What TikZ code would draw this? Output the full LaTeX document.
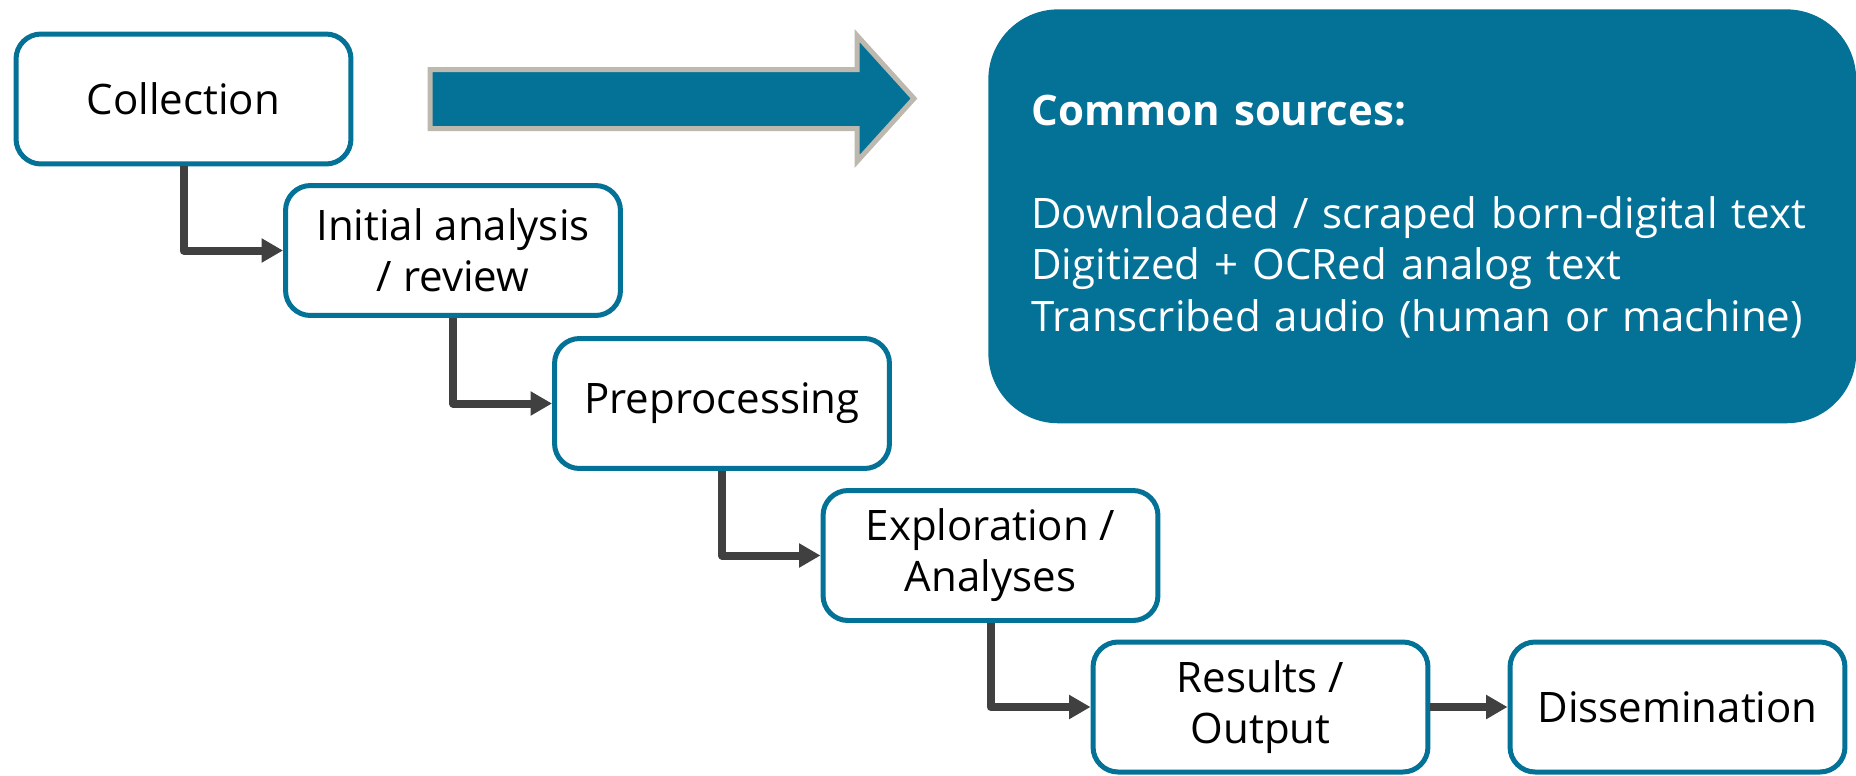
\documentclass[tikz,border=0pt]{standalone}
\usepackage{fontspec}
\setmainfont{Open Sans}
\usepackage{tikz}
\usetikzlibrary{arrows.meta}
\definecolor{stageblue}{HTML}{047196}
\definecolor{arrowgray}{HTML}{BEB9AF}
\definecolor{linkgray}{HTML}{404040}
\tikzset{
  stage/.style={draw=stageblue,line width=0.1cm,fill=white,rounded corners=0.5cm,
    minimum width=6.7cm,minimum height=2.6cm,inner sep=0pt,align=center,
    font=\fontsize{23.9}{29}\selectfont},
  link/.style={draw=linkgray,line width=0.16cm,line join=round,
    -{Triangle[length=0.43cm,width=0.46cm]}},
}

\begin{document}
\begin{tikzpicture}[x=0.02cm,y=-0.02cm]
  \useasboundingbox (0,0) rectangle (1856,775);
  % 工程の箱(左上から右下へ階段状に並べる)
  \node[stage] (collect) at (183.5,99) {Collection};
  \node[stage] (initial) at (453,250.5) {Initial analysis\\/ review};
  \node[stage] (prep) at (722,403.5) {Preprocessing};
  \node[stage] (explore) at (990.5,555.5) {Exploration /\\Analyses};
  \node[stage] (results) at (1260.5,707) {Results /\\Output};
  \node[stage] (dissem) at (1677.5,707) {Dissemination};
  % 工程をつなぐ矢印(下へ降りてから右へ)
  \draw[link] (collect.south) |- (initial.west);
  \draw[link] (initial.south) |- (prep.west);
  \draw[link] (prep.south) |- (explore.west);
  \draw[link] (explore.south) |- (results.west);
  \draw[link] (results) -- (dissem);
  % 大きな矢印(収集から情報源の説明へ)
  \draw[line width=0.1cm,draw=arrowgray,fill=stageblue,line join=miter]
    (430,69.5) -- (857,69.5) -- (857,35.5) -- (914,98.5) -- (857,161.5)
    -- (857,128.5) -- (430,128.5) -- cycle;
  % 情報源の説明
  \node[fill=stageblue,rounded corners=1.4cm,text=white,anchor=north west,
    minimum height=8.28cm,text width=15.64cm,inner xsep=0.86cm,inner ysep=0pt,
    align=left,font=\fontsize{23.9}{29.3}\selectfont] (sources) at (988,9)
    {\textbf{Common sources:}\\[29.3pt]
     Downloaded / scraped born-digital text\\
     Digitized + OCRed analog text\\
     Transcribed audio (human or machine)};
\end{tikzpicture}
\end{document}
